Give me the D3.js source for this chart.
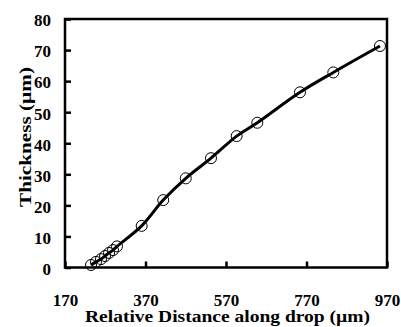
<!DOCTYPE html>
<html><head><meta charset="utf-8">
<script src="https://cdn.jsdelivr.net/npm/d3@7"></script>
<style>html,body{margin:0;padding:0;background:#fff;}svg{display:block;}</style>
</head><body>
<script>
const distance = [234.6, 247, 259.4, 269.4, 279.4, 289.3, 299.2, 360.5, 414, 470, 532.7, 596.5, 647.8, 753.8, 836.6, 952.6];
const thickness = [0.8, 1.8, 2.7, 3.7, 4.7, 5.6, 6.8, 13.4, 21.7, 28.7, 35.2, 42.3, 46.6, 56.4, 62.8, 71.3];
const xTicks = [170, 370, 570, 770, 970];
const yTicks = [0, 10, 20, 30, 40, 50, 60, 70, 80];
const xTitle = "Relative Distance along drop (\u00b5m)";
const yTitle = "Thickness (\u00b5m)";

const W = 401, H = 327;
const L = 65, R = 387, T = 19, B = 267.5;
const svg = d3.select("body").append("svg").attr("width", W).attr("height", H);
svg.append("rect").attr("width", W).attr("height", H).attr("fill", "#fff");

const x = d3.scaleLinear().domain([170, 970]).range([L, R]);
const y = d3.scaleLinear().domain([0, 80]).range([B, T]);
const font = "'Liberation Serif','Times New Roman',serif";

// frame
svg.append("rect").attr("x", L).attr("y", T).attr("width", R - L).attr("height", B - T)
  .attr("fill", "none").attr("stroke", "#000").attr("stroke-width", 2.5);

// x axis ticks (inside)
const xa = svg.append("g").attr("transform", `translate(0,${B})`)
  .call(d3.axisBottom(x).tickValues(xTicks).tickSizeInner(-6).tickSizeOuter(0).tickPadding(0).tickFormat(d3.format("d")));
xa.select(".domain").remove();
xa.selectAll("line").attr("stroke", "#000").attr("stroke-width", 2.5);
xa.selectAll("text").attr("y", 38).attr("dy", 0)
  .attr("font-family", font).attr("font-weight", "bold").attr("font-size", 17).attr("fill", "#000");

// y axis ticks (inside)
const ya = svg.append("g").attr("transform", `translate(${L},0)`)
  .call(d3.axisLeft(y).tickValues(yTicks).tickSizeInner(-6).tickSizeOuter(0).tickPadding(14).tickFormat(d3.format("d")));
ya.select(".domain").remove();
ya.selectAll("line").attr("stroke", "#000").attr("stroke-width", 2.5);
ya.selectAll("text").attr("font-family", font).attr("font-weight", "bold").attr("font-size", 17).attr("fill", "#000").attr("dy", "0.4em");

// line
const data = distance.map((d, i) => [d, thickness[i]]);
svg.append("path").datum(data)
  .attr("d", d3.line().x(d => x(d[0])).y(d => y(d[1])).curve(d3.curveCatmullRom))
  .attr("fill", "none").attr("stroke", "#000").attr("stroke-width", 3);

// markers
svg.append("g").selectAll("circle").data(data).join("circle")
  .attr("cx", d => x(d[0])).attr("cy", d => y(d[1])).attr("r", 5.5)
  .attr("fill", "none").attr("stroke", "#000").attr("stroke-width", 1);

// titles
svg.append("text").attr("x", 85).attr("y", 322).text(xTitle)
  .attr("font-family", font).attr("font-weight", "bold").attr("font-size", 16)
  .attr("textLength", 285).attr("lengthAdjust", "spacingAndGlyphs");
svg.append("text").attr("transform", "translate(31,207) rotate(-90)").text(yTitle)
  .attr("font-family", font).attr("font-weight", "bold").attr("font-size", 17)
  .attr("textLength", 140).attr("lengthAdjust", "spacingAndGlyphs");
</script>
</body></html>
